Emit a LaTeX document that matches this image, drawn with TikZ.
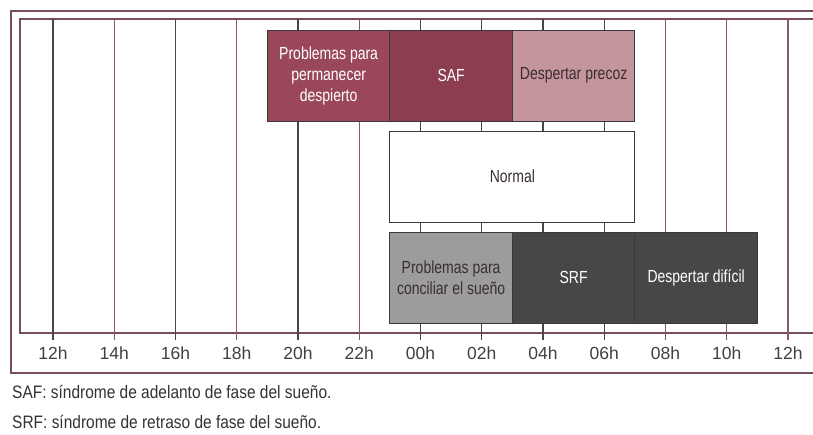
\documentclass[tikz,border=0pt]{standalone}
\usepackage{fontspec}
\setmainfont{Liberation Sans}
\newfontfamily\cond[FakeStretch=0.8]{Liberation Sans}
\newfontfamily\capfont[FakeStretch=0.86]{Liberation Sans}
\definecolor{framec}{HTML}{7A4D5D}
\definecolor{gridA}{HTML}{4E4448}
\definecolor{gridB}{HTML}{8A5A6A}
\definecolor{marA}{HTML}{9B475A}
\definecolor{marB}{HTML}{8C3D50}
\definecolor{pinkC}{HTML}{C4959B}
\definecolor{grayL}{HTML}{9C9C9C}
\definecolor{grayD}{HTML}{474747}
\definecolor{txtD}{HTML}{3A2E32}
\definecolor{edgec}{HTML}{3A3A3A}
\tikzset{
  frameline/.style={draw=framec, line width=1.3pt},
  gridline/.style={line width=1.2pt},
  bar/.style={draw=edgec, line width=1pt, minimum height=91pt, inner sep=0pt, align=center,
    font=\cond\fontsize{17.5}{21}\selectfont},
  hourlbl/.style={anchor=base, font=\fontsize{17.5}{20}\selectfont, text=black!75, inner sep=0pt},
  caption/.style={anchor=base west, font=\capfont\fontsize{18}{20}\selectfont, text=black!80, inner sep=0pt}
}
\newcommand{\hx}[1]{53+30.625*#1}
\begin{document}
\begin{tikzpicture}[x=1pt,y=-1pt]
\useasboundingbox (0,0) rectangle (813,434);
\clip (0,0) rectangle (813,434);
\fill[white] (0,0) rectangle (813,434);
% frames
\draw[frameline] (11,11) rectangle (840,373);
\draw[frameline] (20,19) rectangle (840,333);
% grid lines
\foreach \k/\c in {0/gridA,1/gridB,2/gridA,3/gridB,4/gridA,5/gridB,6/gridA,7/gridA,8/gridA,9/gridA,10/gridB,11/gridB,12/gridB}{
  \draw[gridline, draw=\c] ({53+61.25*\k},19) -- ({53+61.25*\k},340);
}
% hour labels
\foreach \k/\l in {0/12h,1/14h,2/16h,3/18h,4/20h,5/22h,6/00h,7/02h,8/04h,9/06h,10/08h,11/10h,12/12h}{
  \node[hourlbl] (h\k) at ({53+61.25*\k},359) {\l};
}
% top row
\node[bar, fill=marA, text=white, minimum width=122.5pt] (ppd) at ({\hx{9}},75.5) {Problemas para\\permanecer\\despierto};
\node[bar, fill=marB, text=white, minimum width=122.5pt] (saf) at ({\hx{13}},75.5) {SAF};
\node[bar, fill=pinkC, text=txtD, minimum width=122.5pt] (dp) at ({\hx{17}},75.5) {Despertar precoz};
% middle
\node[bar, fill=white, text=txtD, minimum width=245pt] (nor) at ({\hx{15}},176.5) {Normal};
% bottom row
\node[bar, fill=grayL, text=txtD, minimum width=122.5pt] (pcs) at ({\hx{13}},277.5) {Problemas para\\conciliar el sueño};
\node[bar, fill=grayD, text=white, minimum width=122.5pt] (srf) at ({\hx{17}},277.5) {SRF};
\node[bar, fill=grayD, text=white, minimum width=122.5pt] (dd) at ({\hx{21}},277.5) {Despertar difícil};
% captions
\node[caption] (c1) at (12,398) {SAF: síndrome de adelanto de fase del sueño.};
\node[caption] (c2) at (12,428) {SRF: síndrome de retraso de fase del sueño.};
\end{tikzpicture}
\end{document}
